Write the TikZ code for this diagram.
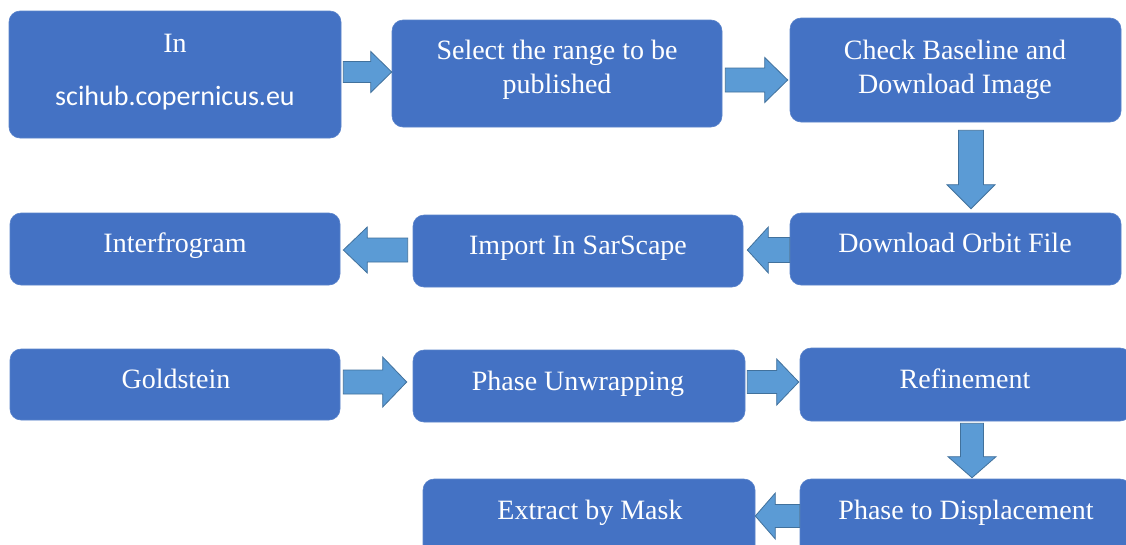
\documentclass[tikz,border=0pt]{standalone}
\usepackage{fontspec}
\setmainfont{Liberation Serif}
\newfontfamily\calibrifont{Carlito}
\usetikzlibrary{calc}
\definecolor{boxblue}{HTML}{4472C4}
\definecolor{arrowblue}{HTML}{5B9BD5}
\definecolor{arrowline}{HTML}{41719C}
\tikzset{
  box/.style={fill=boxblue, draw=boxblue!88!white, line width=0.6pt, rounded corners=11pt, inner sep=0pt},
  txt/.style={text=white, font=\fontsize{28}{34}\selectfont, anchor=base, inner sep=0pt},
  barrow/.style={fill=arrowblue, draw=arrowline, line width=0.8pt, line join=miter}
}
% #1 tail, #2 tip, #3 shaft half width, #4 head half width, #5 head length
\newcommand\blockarrow[5]{%
  \coordinate (ba-t) at #1;
  \coordinate (ba-p) at #2;
  \coordinate (ba-h) at ($(ba-p)!#5pt!(ba-t)$);
  \filldraw[barrow] ($(ba-t)!#3pt!90:(ba-p)$) -- ($(ba-h)!#3pt!90:(ba-p)$) -- ($(ba-h)!#4pt!90:(ba-p)$) -- (ba-p) -- ($(ba-h)!#4pt!-90:(ba-p)$) -- ($(ba-h)!#3pt!-90:(ba-p)$) -- ($(ba-t)!#3pt!-90:(ba-p)$) -- cycle;
}
\begin{document}
\begin{tikzpicture}[x=1pt,y=-1pt]
\useasboundingbox (0,0) rectangle (1126,544);
\clip (0,0) rectangle (1126,544);
\fill[white] (0,0) rectangle (1126,544);

% boxes
\node[box, minimum width=332pt, minimum height=127pt] (b1) at (175,74.5) {};
\node[box, minimum width=330pt, minimum height=107pt] (b2) at (557,73.5) {};
\node[box, minimum width=331pt, minimum height=104pt] (b3) at (955.5,70) {};
\node[box, minimum width=330pt, minimum height=72pt] (interf) at (175,249) {};
\node[box, minimum width=330pt, minimum height=72pt] (import) at (578,251) {};
\node[box, minimum width=331pt, minimum height=72pt] (orbit) at (955.5,249) {};
\node[box, minimum width=330pt, minimum height=71pt] (gold) at (175,384.5) {};
\node[box, minimum width=332pt, minimum height=72pt] (phase) at (579,386) {};
\node[box, minimum width=331pt, minimum height=73pt] (refine) at (965.5,384.5) {};
\node[box, minimum width=332pt, minimum height=81pt] (extract) at (589,519.5) {};
\node[box, minimum width=331pt, minimum height=81pt] (ptd) at (965.5,519.5) {};

% texts
\node[txt] (t1a) at (175,52) {In};
\node[txt, font=\calibrifont\fontsize{28}{34}\selectfont] (t1b) at (175,105) {scihub.copernicus.eu};
\node[txt] (t2a) at (557,59) {Select the range to be};
\node[txt] (t2b) at (557,93) {published};
\node[txt] (t3a) at (955,59) {Check Baseline and};
\node[txt] (t3b) at (955,93) {Download Image};
\node[txt] (t4) at (175,252) {Interfrogram};
\node[txt] (t5) at (578,254) {Import In SarScape};
\node[txt] (t6) at (955,252) {Download Orbit File};
\node[txt] (t7) at (176,388) {Goldstein};
\node[txt] (t8) at (578,390) {Phase Unwrapping};
\node[txt] (t9) at (965,388) {Refinement};
\node[txt] (t10) at (590,519) {Extract by Mask};
\node[txt] (t11) at (966,519) {Phase to Displacement};

% block arrows
\blockarrow{($(b1.east)+(2,-2.5)$)}{($(b2.west)+(0,-1.5)$)}{10.5}{20.5}{21}
\blockarrow{($(b2.east)+(3,6.5)$)}{($(b3.west)+(-2,10)$)}{12}{22.5}{23}
\blockarrow{($(b3.south)+(15.5,8)$)}{($(orbit.north)+(15.5,-4)$)}{12.5}{24}{24}
\blockarrow{($(orbit.west)+(0,1)$)}{($(import.east)+(4,-1)$)}{12.5}{23}{21}
\blockarrow{($(import.west)+(-5,-1)$)}{($(interf.east)+(3,1)$)}{12}{23}{24}
\blockarrow{($(gold.east)+(3,-2.5)$)}{($(phase.west)+(-6,-4)$)}{12}{25}{24}
\blockarrow{($(phase.east)+(2,-4)$)}{($(refine.west)+(-1,-2.5)$)}{11.5}{23}{22}
\blockarrow{($(refine.south)+(6.5,2)$)}{($(ptd.north)+(6.5,-1)$)}{11.5}{24}{21}
\blockarrow{($(ptd.west)+(0,-3.5)$)}{($(extract.east)+(0,-3.5)$)}{11.5}{23}{20}
\end{tikzpicture}
\end{document}
